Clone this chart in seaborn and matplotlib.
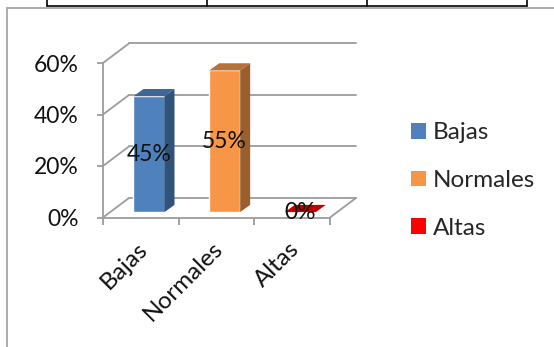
import matplotlib
matplotlib.use("Agg")
import matplotlib.pyplot as plt
from matplotlib.lines import Line2D
from matplotlib.patches import Patch, Polygon
from matplotlib.transforms import Affine2D, ScaledTranslation
import pandas as pd
import seaborn as sns

categories = ["Bajas", "Normales", "Altas"]
values = [45, 55, 0]
y_ticks = [0, 20, 40, 60]
front_colors = ["#4F81BD", "#F79646", "#FF0000"]
top_colors = ["#3E6796", "#B8713A", "#C00000"]
side_colors = ["#325379", "#9A5F2C", "#A00000"]

W, H = 554, 347
GRID = "#9C9C9C"
FONT_SIZE = 16.5
LABEL_SIZE = 17.5

sns.set_style("white")
plt.rcParams["font.family"] = ["Lato", "DejaVu Sans"]

fig = plt.figure(figsize=(W / 100, H / 100), dpi=100)
ax = fig.add_axes([103 / W, 1 - 217.5 / H, 227 / W, 154.5 / H])

df = pd.DataFrame({"categoria": categories, "valor": values})
sns.barplot(data=df, x="categoria", y="valor", hue="categoria", hue_order=categories,
            palette=front_colors, dodge=False, width=0.41, saturation=1, ax=ax, zorder=4)
ax.set_xlim(-0.5, 2.5)
ax.set_ylim(0, 60)
ax.set_xlabel("")
ax.set_ylabel("")

# Oblique depth of the chart box and of the columns, in data units
box_dx, box_dy = 0.344, 7.6
inset_dx, inset_dy = 0.108, 2.1
bar_dx, bar_dy = 0.132, 2.8

# Back wall, side wall and floor
x0, x1 = ax.get_xlim()
for t in y_ticks:
    ax.plot([x0, x0 + box_dx], [t, t + box_dy], color=GRID, lw=1.3, clip_on=False, zorder=1)
    ax.plot([x0 + box_dx, x1 + box_dx], [t + box_dy, t + box_dy], color=GRID, lw=1.3,
            clip_on=False, zorder=1)
ax.plot([x1, x1 + box_dx], [0, box_dy], color=GRID, lw=1.3, clip_on=False, zorder=1)

# Columns: shifted front face, plus top and side faces
shift = Affine2D().translate(inset_dx, inset_dy) + ax.transData
bars = sorted([p for p in ax.patches], key=lambda p: p.get_x())
for bar, val, top_c, side_c in zip(bars, values, top_colors, side_colors):
    bar.set_transform(shift)
    bar.set_clip_on(False)
    left, right = bar.get_x(), bar.get_x() + bar.get_width()
    ax.add_patch(Polygon([(left, val), (right, val), (right + bar_dx, val + bar_dy),
                          (left + bar_dx, val + bar_dy)],
                         facecolor=top_c, edgecolor="none", transform=shift,
                         clip_on=False, zorder=4))
    ax.add_patch(Polygon([(right, 0), (right + bar_dx, bar_dy),
                          (right + bar_dx, val + bar_dy), (right, val)],
                         facecolor=side_c, edgecolor="none", transform=shift,
                         clip_on=False, zorder=4))
    ax.text((left + right) / 2 + inset_dx, val / 2 + inset_dy, f"{val}%",
            ha="center", va="center", fontsize=FONT_SIZE, color="#111111", zorder=6)

# Axes
sns.despine(ax=ax, top=True, right=True)
for side in ("left", "bottom"):
    ax.spines[side].set_color(GRID)
    ax.spines[side].set_linewidth(1.3)
    ax.spines[side].set_zorder(2)
ax.set_yticks(y_ticks, [f"{t}%" for t in y_ticks], fontsize=FONT_SIZE, color="#111111")
ax.tick_params(axis="y", left=True, length=4.5, width=1.3, color=GRID, pad=13)
ax.set_xticks(range(len(categories)))
ax.set_xticklabels(categories, rotation=45, ha="right", rotation_mode="anchor",
                   fontsize=LABEL_SIZE, color="#111111")
ax.set_xticks([-0.5, 0.5, 1.5, 2.5], minor=True)
ax.tick_params(axis="x", which="major", bottom=False, length=0, pad=14)
ax.tick_params(axis="x", which="minor", bottom=True, length=5, width=1.3, color=GRID)
label_nudge = ScaledTranslation(-4 / 100, -1 / 100, fig.dpi_scale_trans)
for label in ax.get_xticklabels():
    label.set_transform(label.get_transform() + label_nudge)

# Legend
handles = [Patch(facecolor=c, edgecolor="none") for c in front_colors]
ax.legend(handles, categories, loc="center left", bbox_to_anchor=(401 / W, 1 - 180.5 / H),
          bbox_transform=fig.transFigure, frameon=False, fontsize=LABEL_SIZE,
          handlelength=0.62, handleheight=0.62, handletextpad=0.28, labelspacing=1.1,
          borderpad=0, borderaxespad=0.4)

# Surrounding page elements: chart frame and the table row above it
frame = dict(color="#A6A6A6", lw=1.3, transform=fig.transFigure)
fig.add_artist(Line2D([7 / W, 7 / W], [0, 1 - 7.5 / H], **frame))
fig.add_artist(Line2D([7 / W, 1], [1 - 7.5 / H, 1 - 7.5 / H], **frame))
table = dict(color="black", lw=1.2, transform=fig.transFigure)
fig.add_artist(Line2D([47 / W, 527 / W], [1 - 6 / H, 1 - 6 / H], **table))
for x in (47, 207, 367, 527):
    fig.add_artist(Line2D([x / W, x / W], [1 - 6 / H, 1], **table))

fig.savefig("out.png", dpi=100)
